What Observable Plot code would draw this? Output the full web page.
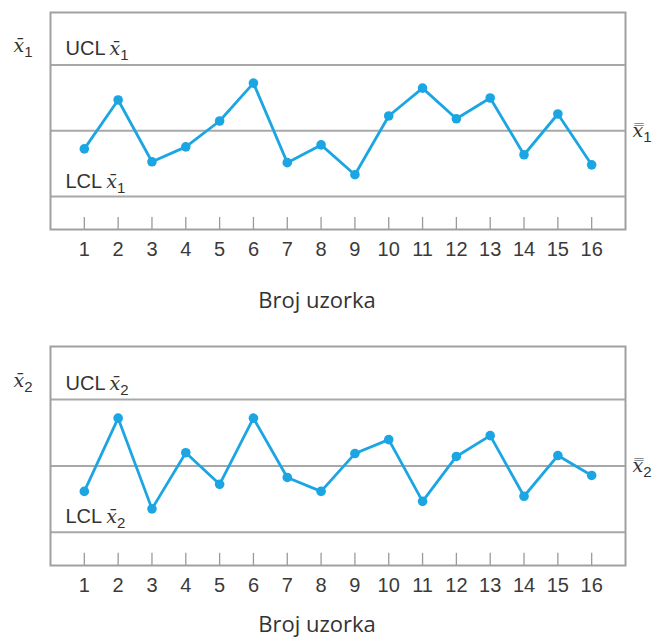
<!DOCTYPE html>
<html><head><meta charset="utf-8">
<script src="https://cdn.jsdelivr.net/npm/d3@7"></script>
<script src="https://cdn.jsdelivr.net/npm/@observablehq/plot@0.6"></script>
<style>
body{margin:0;background:#fff}
#charts > div, #charts svg{display:block}
</style>
</head><body><div id="charts"></div>
<script>
// ---- data ----
const samples = [1,2,3,4,5,6,7,8,9,10,11,12,13,14,15,16];
const xbar1 = [-0.82,1.41,-1.41,-0.73,0.45,2.18,-1.45,-0.64,-2.0,0.68,1.95,0.55,1.5,-1.09,0.77,-1.55];
const xbar2 = [-1.15,2.16,-1.94,0.6,-0.83,2.16,-0.52,-1.15,0.56,1.19,-1.6,0.43,1.37,-1.37,0.47,-0.43];
const limitNames = ["UCL", "center", "LCL"];
const limitValues = [3, 0, -3];
const xLabel = "Broj uzorka";
const subscripts = ["1", "2"];
const XBAR = "x\u0304", XDBAR = "x\u033F";

const BLUE = "#1ba6e3";
const yDom = [-4.5, 5.4];

function panel(values, sub, cfg) {
  const data = samples.map((s, i) => ({s, v: values[i]}));
  const chart = Plot.plot({
    width: 654, height: cfg.height,
    marginTop: cfg.marginTop, marginBottom: cfg.marginBottom,
    marginLeft: 50, marginRight: 29,
    x: {domain: [0, 17]},
    y: {domain: yDom, axis: null},
    style: {fontFamily: "'Liberation Sans', Arial, sans-serif", color: "#3a3a3a", background: "#fff", overflow: "visible"},
    marks: [
      Plot.ruleY(limitValues, {stroke: "#a8a8a8", strokeWidth: 2}),
      Plot.ruleX(samples, {x: d => d, y1: yDom[0], y2: yDom[0] + 0.55, stroke: "#9a9a9a", strokeWidth: 1.3}),
      Plot.frame({stroke: "#a0a0a0", strokeWidth: 2}),
      Plot.axisX(samples, {tickSize: 0, tickPadding: 12, fontSize: 20, label: null, tickFormat: d => String(d), fill: "#3a3a3a"}),
      Plot.line(data, {x: "s", y: "v", stroke: BLUE, strokeWidth: 2.8}),
      Plot.dot(data, {x: "s", y: "v", r: 4.8, fill: BLUE}),
      Plot.text([xLabel], {frameAnchor: "bottom", dx: -21, dy: cfg.titleDy, lineAnchor: "bottom", fontSize: 22, fontFamily: "'Open Sans', sans-serif", fill: "#333"}),
      Plot.text([limitNames[0]], {x: 0, y: limitValues[0], dx: 15, dy: -10, textAnchor: "start", lineAnchor: "bottom", fontSize: 20, fill: "#333"}),
      Plot.text([limitNames[2]], {x: 0, y: limitValues[2], dx: 15, dy: -9, textAnchor: "start", lineAnchor: "bottom", fontSize: 20, fill: "#333"}),
      Plot.text([XBAR], {x: 0, y: limitValues[0], dx: -18, dy: -13, textAnchor: "end", lineAnchor: "bottom", fontSize: 20, fill: "#333"}),
      Plot.text([XDBAR], {x: 17, y: limitValues[1], dx: 7, dy: 6, textAnchor: "start", lineAnchor: "bottom", fontSize: 20, fill: "#333"})
    ]
  });
  const texts = d3.select(chart).selectAll("text");
  texts.filter(function() { return [limitNames[0], limitNames[2], XBAR, XDBAR].includes(this.textContent); })
    .each(function() {
      const t = d3.select(this);
      const content = this.textContent;
      const prefix = (content === XBAR || content === XDBAR) ? "" : content;
      const xchar = content === XDBAR ? XDBAR : XBAR;
      t.text(null);
      if (prefix) t.append("tspan").text(prefix + "\u2009");
      t.append("tspan").attr("font-family", "'DejaVu Serif', 'Liberation Serif', serif").attr("font-style", "italic").attr("font-size", 19).text(xchar);
      t.append("tspan").attr("font-size", 15).attr("dy", 5).text(sub);
    });
  return chart;
}

const root = document.getElementById("charts");
root.append(panel(xbar1, subscripts[0], {height: 330, marginTop: 12, marginBottom: 101, titleDy: 78}));
root.append(panel(xbar2, subscripts[1], {height: 308, marginTop: 16, marginBottom: 73, titleDy: 66}));
</script>
</body></html>
